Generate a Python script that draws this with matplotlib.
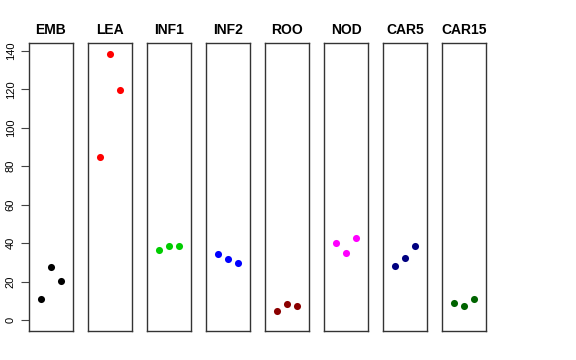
import matplotlib
matplotlib.use("Agg")
import matplotlib.pyplot as plt

categories = ["EMB", "LEA", "INF1", "INF2", "ROO", "NOD", "CAR5", "CAR15"]
values = [
    [11.0, 27.5, 20.5],
    [85.0, 138.5, 119.7],
    [36.4, 38.4, 38.4],
    [34.4, 31.9, 29.7],
    [5.0, 8.5, 7.5],
    [40.2, 35.2, 42.8],
    [28.3, 32.6, 38.4],
    [8.8, 7.6, 10.9],
]
colors = ["black", "red", "#00CD00", "blue", "#8B0000", "magenta", "#000080", "#006400"]
yticks = [0, 20, 40, 60, 80, 100, 120, 140]

plt.rcParams['font.family'] = ['Liberation Sans', 'DejaVu Sans']
fig = plt.figure(figsize=(5.76, 3.6), dpi=100)
W, H = 576, 360
left0, step, pw = 29, 59, 44
top, bottom = 43, 331
ymin, ymax = -5.54, 144.04

for i, (cat, vals, col) in enumerate(zip(categories, values, colors)):
    x0 = left0 + i * step
    ax = fig.add_axes([x0 / W, (H - bottom) / H, pw / W, (bottom - top) / H])
    ax.scatter([1, 2, 3], vals, s=26, color=col, zorder=3, linewidths=0)
    ax.set_xlim(-0.16, 4.16)
    ax.set_ylim(ymin, ymax)
    ax.set_xticks([])
    for sp in ax.spines.values():
        sp.set_color("#333333")
        sp.set_linewidth(1.0)
    ax.set_title(cat, fontsize=10, fontweight='bold', pad=6.5)
    if i == 0:
        ax.set_yticks(yticks)
        ax.set_yticklabels([str(t) for t in yticks], rotation=90, va='center', fontsize=8)
        ax.tick_params(axis='y', length=5.5, width=0.8, pad=4, color="#444444")
    else:
        ax.set_yticks([])

fig.savefig("out.png", dpi=100)
